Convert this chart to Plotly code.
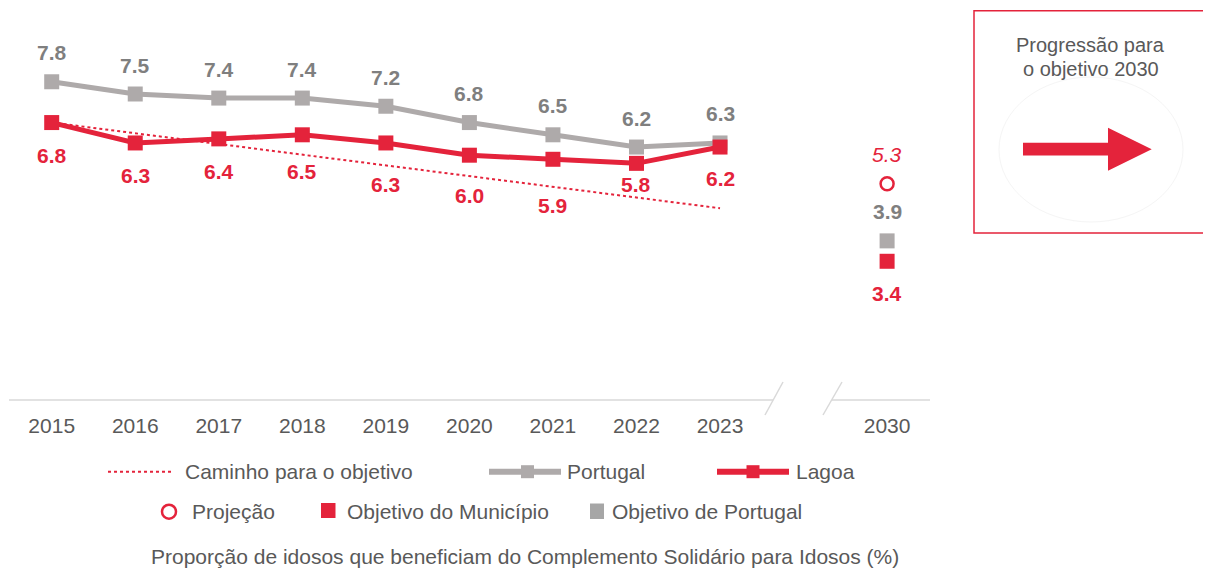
import plotly.graph_objects as go

# ---------------- data ----------------
years = [2015, 2016, 2017, 2018, 2019, 2020, 2021, 2022, 2023]
target_year = 2030
portugal = [7.8, 7.5, 7.4, 7.4, 7.2, 6.8, 6.5, 6.2, 6.3]
lagoa = [6.8, 6.3, 6.4, 6.5, 6.3, 6.0, 5.9, 5.8, 6.2]
path_years = [2015, 2023]
path_values = [6.8, 4.7]
projection_2030 = [5.3]
goal_portugal_2030 = [3.9]
goal_lagoa_2030 = [3.4]
tick_years = years + [target_year]

legend_labels = ["Caminho para o objetivo", "Portugal", "Lagoa",
                 "Projeção", "Objetivo do Município", "Objetivo de Portugal"]
box_title = ["Progressão para", "o objetivo 2030"]
caption = "Proporção de idosos que beneficiam do Complemento Solidário para Idosos (%)"

# ---------------- style ----------------
OFF = 8                      # page body margin
WF, HF = 1211 - OFF, 570 - OFF
RED = "#E4233B"
GRAY_LINE = "#AEAAAA"
GRAY_SQ = "#A6A6A6"
GRAY_TXT = "#7F7F7F"
TXT = "#595959"
AXIS = "#D9D9D9"
FONT = "Liberation Sans, Arial, sans-serif"

# label offsets (pixels below each Lagoa marker), placed to avoid the dotted path
lagoa_label_drop = [33, 33, 33, 36.5, 42, 40, 46.5, 21, 31.5]

# plot area in screen pixels
PL, PR, PT, PB = 9, 930, 10, 400
X0_PX, X_STEP = 51.7, 83.54
Y_STEP = 40.8


def pos(year):
    if year <= years[-1]:
        return years.index(year)
    return len(years) + 1  # leave a gap before the target year


def fx(px):
    return (px - OFF) / WF


def fy(py):
    return 1 - (py - OFF) / HF


def xd(px):
    return (px - X0_PX) / X_STEP


x_main = [pos(y) for y in years]
x_target = [pos(target_year)]
x_path = [pos(y) for y in path_years]

fig = go.Figure()

fig.add_trace(go.Scatter(x=x_path, y=path_values, mode="lines",
                         line=dict(color=RED, width=2, dash="dot"),
                         hoverinfo="skip", showlegend=False))
fig.add_trace(go.Scatter(x=x_main, y=portugal, mode="lines+markers",
                         line=dict(color=GRAY_LINE, width=5),
                         marker=dict(symbol="square", size=15, color=GRAY_LINE),
                         showlegend=False))
fig.add_trace(go.Scatter(x=x_main, y=lagoa, mode="lines+markers",
                         line=dict(color=RED, width=5),
                         marker=dict(symbol="square", size=15, color=RED),
                         showlegend=False))
fig.add_trace(go.Scatter(x=x_target, y=projection_2030, mode="markers",
                         marker=dict(symbol="circle-open", size=13, color=RED,
                                     line=dict(color=RED, width=2.5)),
                         showlegend=False))
fig.add_trace(go.Scatter(x=x_target, y=goal_portugal_2030, mode="markers",
                         marker=dict(symbol="square", size=15, color=GRAY_LINE),
                         showlegend=False))
fig.add_trace(go.Scatter(x=x_target, y=goal_lagoa_2030, mode="markers",
                         marker=dict(symbol="square", size=15, color=RED),
                         showlegend=False))

annotations = []


def label(x, y, text, color, shift):
    annotations.append(dict(x=x, y=y, xref="x", yref="y", text=text, showarrow=False,
                            yshift=shift, xanchor="center", yanchor="middle",
                            font=dict(family=FONT, size=21, color=color)))


for xi, v in zip(x_main, portugal):
    label(xi, v, f"<b>{v:.1f}</b>", GRAY_TXT, 29)
for xi, v, d in zip(x_main, lagoa, lagoa_label_drop):
    label(xi, v, f"<b>{v:.1f}</b>", RED, -d)
label(x_target[0], projection_2030[0], f"<i>{projection_2030[0]:.1f}</i>", RED, 29.5)
label(x_target[0], goal_portugal_2030[0], f"<b>{goal_portugal_2030[0]:.1f}</b>", GRAY_TXT, 29.5)
label(x_target[0], goal_lagoa_2030[0], f"<b>{goal_lagoa_2030[0]:.1f}</b>", RED, -32.5)


def ptext(px, py, text, anchor="left", size=21, color=TXT):
    annotations.append(dict(x=fx(px), y=fy(py), xref="paper", yref="paper", text=text,
                            showarrow=False, xanchor=anchor, yanchor="middle", borderpad=0,
                            font=dict(family=FONT, size=size, color=color)))


shapes = []


def pline(x0, y0, x1, y1, color, width, dash=None):
    d = dict(type="line", xref="paper", yref="paper", x0=fx(x0), y0=fy(y0), x1=fx(x1), y1=fy(y1),
             line=dict(color=color, width=width))
    if dash:
        d["line"]["dash"] = dash
    shapes.append(d)


def prect(x0, y0, x1, y1, fill, line_color=None, lw=0):
    shapes.append(dict(type="rect", xref="paper", yref="paper", x0=fx(x0), y0=fy(y0),
                       x1=fx(x1), y1=fy(y1), fillcolor=fill,
                       line=dict(color=line_color or fill, width=lw)))


# broken x axis baseline
shapes.append(dict(type="line", xref="x", yref="paper", x0=xd(PL), x1=xd(773), y0=fy(PB), y1=fy(PB),
                   line=dict(color=AXIS, width=1.5)))
shapes.append(dict(type="line", xref="x", yref="paper", x0=xd(832), x1=xd(PR), y0=fy(PB), y1=fy(PB),
                   line=dict(color=AXIS, width=1.5)))
pline(765, 415, 783, 382, AXIS, 1.5)
pline(823, 415, 842, 382, AXIS, 1.5)

# right-hand box
prect(974, 10.7, 1206.7, 233, "rgba(0,0,0,0)", RED, 1.5)
shapes.append(dict(type="circle", xref="paper", yref="paper", x0=fx(999), x1=fx(1183),
                   y0=fy(77), y1=fy(222), line=dict(color="#F5F5F5", width=1)))
arrow = [(1023, 142.7), (1108, 142.7), (1108, 127.7), (1151.7, 149.2),
         (1108, 170.7), (1108, 155.5), (1023, 155.5)]
path = "M " + " L ".join(f"{fx(a):.5f},{fy(b):.5f}" for a, b in arrow) + " Z"
shapes.append(dict(type="path", xref="paper", yref="paper", path=path,
                   fillcolor=RED, line=dict(color=RED, width=0)))
ptext(1090.7, 45, box_title[0], "center", 20)
ptext(1090.7, 68.5, box_title[1], "center", 20)

# legend row 1
R1, R2 = 471.7, 511.7
pline(108, R1, 172, R1, RED, 2, "dot")
ptext(184, R1, legend_labels[0])
pline(489, R1, 561, R1, GRAY_LINE, 6)
prect(521, R1 - 6.5, 534, R1 + 6.5, GRAY_LINE)
ptext(565.5, R1, legend_labels[1])
pline(717, R1, 789, R1, RED, 6)
prect(746.5, R1 - 6.5, 759.5, R1 + 6.5, RED)
ptext(795, R1, legend_labels[2])

# legend row 2
shapes.append(dict(type="circle", xref="paper", yref="paper", x0=fx(162), x1=fx(176),
                   y0=fy(R2 - 7), y1=fy(R2 + 7), line=dict(color=RED, width=2.5)))
ptext(191, R2, legend_labels[3])
prect(321, 503, 335.5, 518, RED)
ptext(346, R2, legend_labels[4])
prect(590, 503.5, 604, 519, GRAY_SQ)
ptext(610.5, R2, legend_labels[5])

# caption
ptext(525, 556, caption, "center", 21)

fig.update_layout(
    width=WF, height=HF,
    margin=dict(l=0, r=0, t=0, b=0, pad=0),
    paper_bgcolor="white", plot_bgcolor="white",
    showlegend=False,
    xaxis=dict(domain=[fx(PL), fx(PR)], range=[xd(PL), xd(PR)],
               tickmode="array", tickvals=[pos(y) for y in tick_years],
               ticktext=[str(y) for y in tick_years],
               tickfont=dict(family=FONT, size=21, color=TXT),
               showgrid=False, zeroline=False, showline=False, ticks="",
               ticklabelstandoff=11, fixedrange=True),
    yaxis=dict(domain=[fy(PB), fy(PT)], range=[0, (PB - PT) / Y_STEP],
               visible=False, fixedrange=True),
    annotations=annotations,
    shapes=shapes,
    font=dict(family=FONT, color=TXT),
)

fig.write_html("out.html")
